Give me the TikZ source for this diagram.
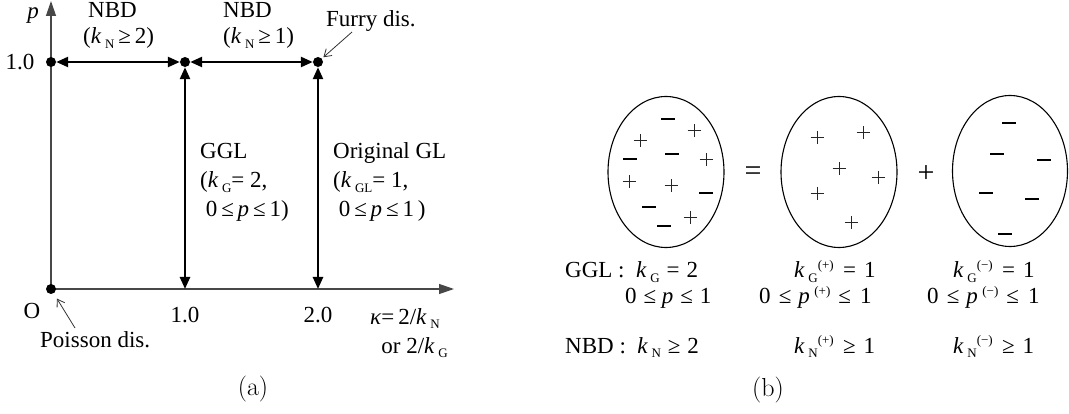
\documentclass[tikz,border=0pt]{standalone}
\usepackage{fontspec}
\newfontfamily\tnr{Liberation Serif}
\usetikzlibrary{arrows.meta,shapes.geometric}
% italic k with a small, lowered upright subscript
\newcommand\kx[1]{\textit{k}\hspace{0.16em}\raisebox{-0.45ex}{\fontsize{13}{13}\selectfont #1}}
% small raised superscript in parentheses
\newcommand\upar[1]{\raisebox{0.85ex}{\fontsize{13}{13}\selectfont(#1)}}
% relation with its own surrounding space
\newcommand\rel[3]{\hspace{#1}#2\hspace{#3}}
\tikzset{
  txt/.style={font=\tnr\fontsize{23}{26}\selectfont, inner sep=0pt, text=black},
  capt/.style={font=\fontsize{26}{30}\selectfont, inner sep=0pt},
  big/.style={font=\tnr\fontsize{30}{32}\selectfont, inner sep=0pt},
  axis/.style={draw=black!72, line width=1.3pt, -{Triangle[length=15pt,width=10pt]}},
  boldarrow/.style={line width=2.4pt, {Triangle[length=12pt,width=10pt]}-{Triangle[length=12pt,width=10pt]}},
  dot/.style={circle, fill=black, inner sep=0pt, minimum size=10pt},
  thinarrow/.style={draw=black!80, line width=0.8pt, -{Straight Barb[length=7pt,width=9pt]}},
  blob/.style={ellipse, draw, line width=1.1pt, inner sep=0pt},
  plusm/.pic={\draw[line width=1pt, black!85] (-6.5,0) -- (6.5,0) (0,-6.5) -- (0,6.5);},
  minusm/.pic={\draw[line width=2.6pt] (-7,0) -- (7,0);}
}
\begin{document}
\begin{tikzpicture}[x=1pt,y=-1pt]
\useasboundingbox (0,0) rectangle (1069,414);
% ---------- (a) phase diagram ----------
\coordinate (O) at (51,289);
\coordinate (ytip) at (51,1);
\coordinate (xtip) at (454,289);
\coordinate (b1) at (185,289);
\coordinate (b2) at (318,289);
\draw[axis] (O) -- (ytip);
\draw[axis] (O) -- (xtip);
\node[dot] (o) at (O) {};
\node[dot] (p0) at (51,62) {};
\node[dot] (p1) at (185,62) {};
\node[dot] (p2) at (318,62) {};
\draw[boldarrow] (p0) -- (p1);
\draw[boldarrow] (p1) -- (p2);
\draw[boldarrow] (p1) -- (b1);
\draw[boldarrow] (p2) -- (b2);

\node[txt] (plab) at (33,16) {\textit{p}};
\node[txt] (one) at (20,62) {1.0};
\node[txt, anchor=base west] (nbd1) at (88,18) {NBD};
\node[txt, anchor=base west] (nbd1k) at (83,44) {(\kx{N}\,≥\,2)};
\node[txt, anchor=base west] (nbd2) at (223,18) {NBD};
\node[txt, anchor=base west] (nbd2k) at (223,44) {(\kx{N}\,≥\,1)};
\node[txt, anchor=base west] (furry) at (326,27) {Furry dis.};
\coordinate (furrytail) at (352,32);
\draw[thinarrow, shorten >=2pt] (furrytail) -- (p2);

\node[txt, anchor=base west] (ggl) at (200,159) {GGL};
\node[txt, anchor=base west] (gglk) at (200,188) {(\kx{G}= 2,};
\node[txt, anchor=base west] (gglp) at (200,217) {\ 0\,≤\,\textit{p}\,≤\,1)};
\node[txt, anchor=base west] (ogl) at (333,159) {Original GL};
\node[txt, anchor=base west] (oglk) at (333,188) {(\kx{GL}= 1,};
\node[txt, anchor=base west] (oglp) at (333,217) {\ 0\,≤\,\textit{p}\,≤\,1\,)};

\node[txt] (olab) at (32,311) {O};
\node[txt, anchor=base west] (poisson) at (40,348) {Poisson dis.};
\coordinate (poistail) at (75,328);
\draw[thinarrow, shorten >=6pt] (poistail) -- (o);
\node[txt, anchor=base] (x1) at (185,323) {1.0};
\node[txt, anchor=base] (x2) at (318,323) {2.0};
\node[txt, anchor=base west] (kappa) at (370,324) {\textit{κ}=\,2/\kx{N}};
\node[txt, anchor=base east] (orlab) at (448,353) {or 2/\kx{G}};
\node[capt] (capa) at (253,389) {(a)};

% ---------- (b) decomposition into charged clusters ----------
\node[blob, minimum width=116pt, minimum height=151pt] (e1) at (666,172) {};
\node[big] (eq) at (753,174) {=};
\node[blob, minimum width=116pt, minimum height=151pt] (e2) at (839,172) {};
\node[big] (pl) at (926,174) {+};
\node[blob, minimum width=115pt, minimum height=151pt] (e3) at (1010,171) {};

\foreach \p in {(694,131),(640,141),(706,160),(629,182),(671,186),(690,218)}
  \pic at \p {plusm};
\foreach \p in {(668,119),(630,159),(672,154),(706,193),(649,207),(664,226)}
  \pic at \p {minusm};
\foreach \p in {(817,138),(863,133),(839,169),(878,178),(817,194),(851,223)}
  \pic at \p {plusm};
\foreach \p in {(1009,123),(997,154),(1044,160),(986,193),(1032,199),(1005,234)}
  \pic at \p {minusm};

\node[txt, anchor=base west] (g1) at (565,278) {GGL :\ \ \kx{G}\rel{0.3em}{=}{0.3em}2};
\node[txt, anchor=base west] (g2) at (625,304) {0\rel{0.3em}{≤}{0.25em}\textit{p}\rel{0.3em}{≤}{0.3em}1};
\node[txt, anchor=base west] (n1) at (565,353) {NBD :\ \ \kx{N}\rel{0.3em}{≥}{0.3em}2};
\node[txt, anchor=base west] (gp1) at (794,278) {\kx{G}\upar{+}\rel{0.4em}{=}{0.35em}1};
\node[txt, anchor=base west] (gp2) at (759,304) {0\rel{0.35em}{≤}{0.3em}\textit{p}\hspace{0.2em}\upar{+}\rel{0.35em}{≤}{0.4em}1};
\node[txt, anchor=base west] (np1) at (794,353) {\kx{N}\upar{+}\rel{0.4em}{≥}{0.35em}1};
\node[txt, anchor=base west] (gm1) at (953,278) {\kx{G}\upar{−}\rel{0.4em}{=}{0.35em}1};
\node[txt, anchor=base west] (gm2) at (927,304) {0\rel{0.35em}{≤}{0.3em}\textit{p}\hspace{0.2em}\upar{−}\rel{0.35em}{≤}{0.4em}1};
\node[txt, anchor=base west] (nm1) at (953,353) {\kx{N}\upar{−}\rel{0.4em}{≥}{0.35em}1};
\node[capt] (capb) at (768,390) {(b)};
\end{tikzpicture}
\end{document}
